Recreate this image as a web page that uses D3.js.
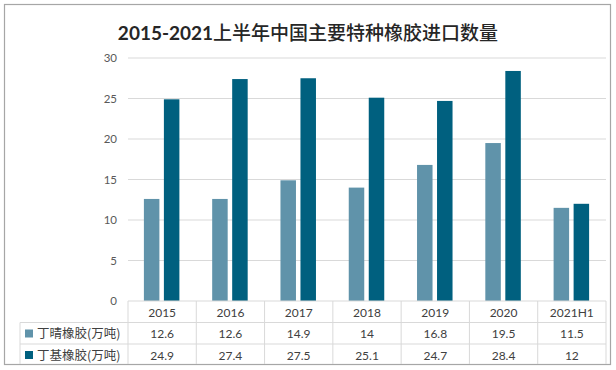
<!DOCTYPE html>
<html>
<head>
<meta charset="utf-8">
<script src="https://cdn.jsdelivr.net/npm/d3@7"></script>
<style>
body { margin: 0; background: #fff; }
</style>
</head>
<body>
<svg id="chart" width="616" height="370"></svg>
<script>
var categories = ["2015", "2016", "2017", "2018", "2019", "2020", "2021H1"];
var seriesNames = ["丁晴橡胶(万吨)", "丁基橡胶(万吨)"];
var nbr = [12.6, 12.6, 14.9, 14, 16.8, 19.5, 11.5];
var iir = [24.9, 27.4, 27.5, 25.1, 24.7, 28.4, 12];
var yTicks = [0, 5, 10, 15, 20, 25, 30];
var colors = ["#6093aa", "#00607f"];

var numFont = "Lato, 'Open Sans', sans-serif";
var cjkFont = "'Noto Sans CJK SC', sans-serif";

var svg = d3.select("#chart");
var plotL = 128, plotR = 606, plotT = 58, plotB = 301;
var rowH = 21.5;

// outer frame
svg.append("rect")
    .attr("x", 4.5).attr("y", 4.5).attr("width", 606).attr("height", 360)
    .attr("fill", "#fff").attr("stroke", "#a6a6a6").attr("stroke-width", 1.2);

// title
var title = svg.append("text")
    .attr("x", 308).attr("y", 40)
    .attr("text-anchor", "middle")
    .attr("font-size", 19).attr("fill", "#262626");
title.append("tspan").attr("font-weight", "bold").attr("font-family", numFont).text("2015-2021");
title.append("tspan").attr("font-weight", 500).attr("font-family", cjkFont).text("上半年中国主要特种橡胶进口数量");

var x = d3.scaleBand().domain(categories).range([plotL, plotR]);
var y = d3.scaleLinear().domain([0, 30]).range([plotB, plotT]);

// gridlines
svg.append("g").selectAll("line")
    .data(yTicks.filter(function(d) { return d > 0; }))
  .enter().append("line")
    .attr("x1", plotL).attr("x2", plotR)
    .attr("y1", function(d) { return y(d); }).attr("y2", function(d) { return y(d); })
    .attr("stroke", "#d9d9d9").attr("stroke-width", 1);

// y axis labels
svg.append("g").selectAll("text")
    .data(yTicks)
  .enter().append("text")
    .attr("x", 117).attr("y", function(d) { return y(d) + 4; })
    .attr("text-anchor", "end")
    .attr("font-size", 11.5).attr("fill", "#595959")
    .attr("font-family", numFont)
    .text(function(d) { return d; });

// bars
var barW = 15.5, gap = 4.5;
var series = [nbr, iir];
series.forEach(function(vals, i) {
  svg.append("g").selectAll("rect")
      .data(vals)
    .enter().append("rect")
      .attr("x", function(d, j) {
        var c = x(categories[j]) + x.bandwidth() / 2 - 0.5;
        return i == 0 ? c - gap / 2 - barW : c + gap / 2;
      })
      .attr("y", function(d) { return y(d); })
      .attr("width", barW)
      .attr("height", function(d) { return y(0) - y(d); })
      .attr("fill", colors[i]);
});

// data table
var tbl = svg.append("g").attr("stroke", "#d9d9d9").attr("stroke-width", 1);
tbl.append("line").attr("x1", plotL).attr("x2", plotR).attr("y1", plotB).attr("y2", plotB);
tbl.append("line").attr("x1", 20).attr("x2", plotR).attr("y1", plotB + rowH).attr("y2", plotB + rowH);
tbl.append("line").attr("x1", 20).attr("x2", plotR).attr("y1", plotB + rowH * 2).attr("y2", plotB + rowH * 2);
tbl.append("line").attr("x1", 20).attr("x2", 20).attr("y1", plotB + rowH).attr("y2", 364);
tbl.selectAll(".vl")
    .data(categories.concat(["end"]))
  .enter().append("line")
    .attr("class", "vl")
    .attr("x1", function(d, i) { return plotL + i * x.bandwidth(); })
    .attr("x2", function(d, i) { return plotL + i * x.bandwidth(); })
    .attr("y1", plotB).attr("y2", 364);

svg.append("g").selectAll("text")
    .data(categories)
  .enter().append("text")
    .attr("x", function(d) { return x(d) + x.bandwidth() / 2; })
    .attr("y", plotB + 15.5)
    .attr("text-anchor", "middle")
    .attr("font-size", 12).attr("fill", "#404040")
    .attr("font-family", numFont)
    .text(function(d) { return d; });

series.forEach(function(vals, i) {
  var ry = plotB + rowH * (i + 1);
  svg.append("rect")
      .attr("x", 25).attr("y", ry + 7).attr("width", 8).attr("height", 8)
      .attr("fill", colors[i]);
  svg.append("text")
      .attr("x", 37).attr("y", ry + 15.5)
      .attr("font-size", 12.5).attr("fill", "#404040")
      .attr("font-family", cjkFont)
      .text(seriesNames[i]);
  svg.append("g").selectAll("text")
      .data(vals)
    .enter().append("text")
      .attr("x", function(d, j) { return x(categories[j]) + x.bandwidth() / 2; })
      .attr("y", ry + 15.5)
      .attr("text-anchor", "middle")
      .attr("font-size", 12).attr("fill", "#404040")
      .attr("font-family", numFont)
      .text(function(d) { return d; });
});
</script>
</body>
</html>
